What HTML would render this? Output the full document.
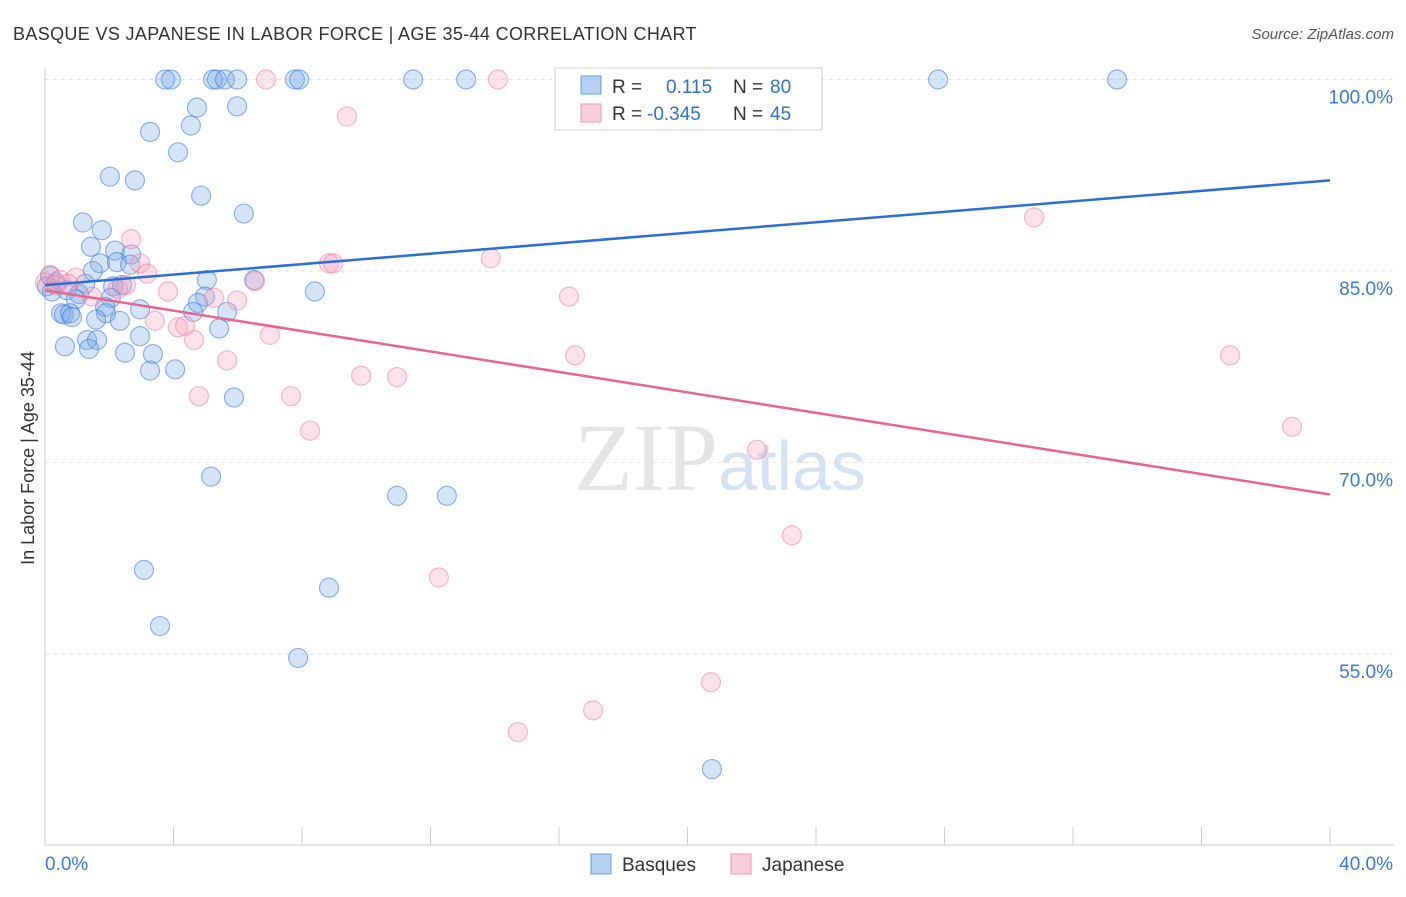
<!DOCTYPE html>
<html><head><meta charset="utf-8"><style>
body{margin:0;background:#fff;font-family:"Liberation Sans",sans-serif;}
</style></head><body>
<svg id="chart" width="1406" height="892" xmlns="http://www.w3.org/2000/svg">
<text x="13" y="40" font-size="18" fill="#333" letter-spacing="0.35">BASQUE VS JAPANESE IN LABOR FORCE | AGE 35-44 CORRELATION CHART</text>
<text x="1394" y="39" font-size="15" fill="#555" font-style="italic" text-anchor="end">Source: ZipAtlas.com</text>
<text x="34" y="458" font-size="18" fill="#333" text-anchor="middle" transform="rotate(-90 34 458)">In Labor Force | Age 35-44</text>
<g id="grid"></g>
<text x="720" y="490" font-size="96" fill="#e4e4e4" text-anchor="middle" font-family="Liberation Serif,serif">ZIP<tspan fill="#d6e2f3" font-family="Liberation Sans,sans-serif" font-size="70">atlas</tspan></text>
<g id="pts"></g>
<g id="lines"></g>
<g>
<rect x="555" y="68" width="267" height="62" fill="#fff" stroke="#ccc"/>
<rect x="581" y="76" width="20" height="18" fill="#b7d0f2" stroke="#6d9be0"/>
<rect x="581" y="104" width="20" height="18" fill="#f9cdd9" stroke="#ec9ab3"/>
<text x="612" y="93" font-size="19" fill="#333">R = <tspan x="666" fill="#2f6fd0">0.115</tspan><tspan x="733" fill="#333">N = </tspan><tspan x="770" fill="#2f6fd0">80</tspan></text>
<text x="612" y="120" font-size="19" fill="#333">R = <tspan x="647" fill="#2f6fd0">-0.345</tspan><tspan x="733" fill="#333">N = </tspan><tspan x="770" fill="#2f6fd0">45</tspan></text>
</g>
<g>
<rect x="591" y="854" width="20" height="20" fill="#b7d0f2" stroke="#6d9be0"/>
<text x="622" y="871" font-size="19" fill="#333">Basques</text>
<rect x="731" y="854" width="20" height="20" fill="#f9cdd9" stroke="#ec9ab3"/>
<text x="762" y="871" font-size="19" fill="#333">Japanese</text>
</g>
</svg>
<script>
const yTicks=[100,85,70,55];
const yTickLabels=["100.0%","85.0%","70.0%","55.0%"];
const xTickLabels=["0.0%","40.0%"];
const basqueX=[3.74,3.92,5.23,5.35,5.60,5.98,7.78,7.91,11.46,13.11,27.80,33.37,4.73,5.98,3.27,4.54,4.14,2.02,2.80,4.86,6.19,1.18,1.77,1.43,2.18,2.68,1.71,2.24,2.65,1.49,0.16,0.34,0.06,0.22,0.68,1.06,0.96,2.12,2.40,1.25,2.05,5.04,6.51,8.40,4.98,4.76,2.96,1.87,1.90,0.50,0.59,0.78,0.84,1.59,2.33,4.61,5.67,5.42,2.96,1.31,1.62,0.62,1.37,2.49,3.36,3.27,4.05,5.88,5.17,10.96,12.51,3.08,3.58,8.84,7.88,20.76];
const basqueY=[100,100,100,100,100,100,100,100,100,100,100,100,97.8,97.9,95.9,96.4,94.3,92.4,92.1,90.9,89.5,88.8,88.2,86.9,86.6,86.3,85.6,85.7,85.5,85.0,84.6,84.1,83.8,83.4,83.5,83.2,82.8,83.8,83.9,84.0,82.9,84.3,84.3,83.4,83.0,82.5,82.0,82.2,81.7,81.7,81.6,81.7,81.4,81.2,81.1,81.8,81.8,80.5,79.9,79.6,79.6,79.1,78.9,78.6,78.5,77.2,77.3,75.1,68.9,67.4,67.4,61.6,57.2,60.2,54.7,46.0];
const japX=[6.88,14.10,9.40,30.79,2.68,2.96,3.18,8.84,8.97,13.88,6.54,0.16,0.47,0.96,0.72,1.46,2.27,2.52,3.83,5.26,5.98,3.42,4.14,4.36,4.64,5.67,7.00,16.31,16.50,36.89,9.84,10.96,4.79,7.66,8.25,22.16,38.82,23.25,12.26,20.73,17.06,14.72,0.34,0.0];
const japY=[100,100,97.1,89.2,87.5,85.6,84.8,85.6,85.6,86.0,84.2,84.7,84.3,84.5,84.0,83.0,83.6,83.9,83.4,82.9,82.7,81.1,80.6,80.7,79.6,78.0,80.0,83.0,78.4,78.4,76.8,76.7,75.2,75.2,72.5,71.0,72.8,64.3,61.0,52.8,50.6,48.9,83.9,84.1];
const basqueTrend=[83.9,92.1];
const japTrend=[83.5,67.5];
const NS="http://www.w3.org/2000/svg";
const X=v=>45+v/40*1285;
const Y=v=>79.5+(100-v)*12.77;
function mk(tag,attrs,parent){const e=document.createElementNS(NS,tag);for(const k in attrs)e.setAttribute(k,attrs[k]);document.getElementById(parent).appendChild(e);return e;}
let g;
g=mk('line',{x1:45,y1:68,x2:45,y2:845,stroke:'#ccc'},'grid');


g=mk('line',{x1:45,y1:845,x2:1394,y2:845,stroke:'#ccc'},'grid');


yTicks.forEach((t,i)=>{
 let l=mk('line',{x1:45,y1:Y(t),x2:1394,y2:Y(t),stroke:'#e2e2e2','stroke-dasharray':'4,4'},'grid');
 
 
 let tx=mk('text',{x:1393,y:Y(t)+24,'font-size':19,fill:'#3a78d4','text-anchor':'end'},'grid');
 tx.textContent=yTickLabels[i];
 
 
});
for(let i=0;i<=10;i++){
 let l=mk('line',{x1:X(i*4),y1:827,x2:X(i*4),y2:845,stroke:'#ccc'},'grid');
 
 
}
[[0,45,'start'],[40,1393,'end']].forEach((d,i)=>{
 let tx=mk('text',{x:d[1],y:870,'font-size':19,fill:'#3a78d4','text-anchor':d[2]},'grid');
 tx.textContent=xTickLabels[i];
 
 
});
basqueX.forEach((v,i)=>{
 let c=mk('circle',{cx:X(v),cy:Y(basqueY[i]),r:9.5,fill:'rgba(120,165,230,0.3)',stroke:'rgba(60,120,215,0.55)','stroke-width':1.2},'pts');
 
 
});
japX.forEach((v,i)=>{
 let c=mk('circle',{cx:X(v),cy:Y(japY[i]),r:9.5,fill:'rgba(245,160,190,0.3)',stroke:'rgba(232,120,155,0.5)','stroke-width':1.2},'pts');
 
 
});
let bl=mk('line',{x1:X(0),y1:Y(basqueTrend[0]),x2:X(40),y2:Y(basqueTrend[1]),stroke:'#2b6fd6','stroke-width':2.5},'lines');


let jl=mk('line',{x1:X(0),y1:Y(japTrend[0]),x2:X(40),y2:Y(japTrend[1]),stroke:'#e8638f','stroke-width':2.5},'lines');


</script>
</body></html>
